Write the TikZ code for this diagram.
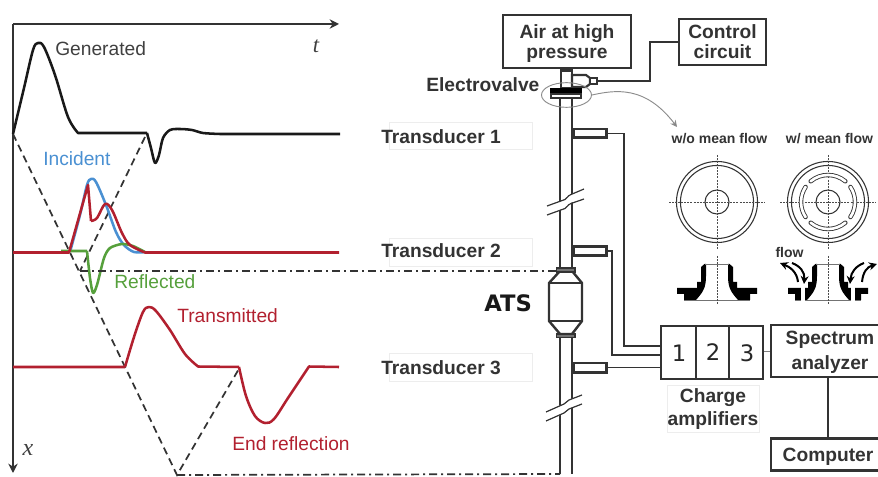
\documentclass[tikz,border=0pt]{standalone}
\usepackage{fontspec}
\setmainfont{Liberation Sans}
\newfontfamily\djv{DejaVu Sans}
\newfontfamily\serf{Liberation Serif}
\usetikzlibrary{arrows.meta,shapes.geometric,calc}
\definecolor{ink}{HTML}{333333}
\definecolor{txtg}{HTML}{404040}
\definecolor{bluec}{HTML}{4A90D2}
\definecolor{greenc}{HTML}{56A03C}
\definecolor{redc}{HTML}{B2202F}
\tikzset{
  wave/.style={line width=1.9pt,line join=round},
  dashw/.style={line width=1.3pt,draw=ink,dash pattern=on 5.5pt off 3.5pt},
  dashdot/.style={line width=1.3pt,draw=ink,dash pattern=on 6pt off 3pt on 1.5pt off 3pt},
  lbl/.style={font=\fontsize{14.4}{15}\selectfont,text=txtg,inner sep=0pt},
  blbl/.style={font=\fontsize{14.4}{15}\selectfont\bfseries,text=ink,inner sep=0pt,align=center},
  sbl/.style={font=\fontsize{10.5}{11}\selectfont\bfseries,text=ink,inner sep=0pt},
  boxb/.style={draw=ink,line width=1.9pt,fill=white,inner sep=0pt,align=center,font=\fontsize{14.4}{15}\selectfont\bfseries,text=ink},
  faint/.style={draw=black!7,line width=.5pt,inner sep=0pt},
  pipe/.style={draw=ink,line width=2pt},
  wire/.style={draw=ink,line width=1.4pt},
  tube/.style={draw=ink,line width=2pt,fill=white,inner sep=0pt},
  centre/.style={draw=black!70,line width=.5pt,dash pattern=on 1.5pt off .8pt},
  disc/.style={draw=ink,line width=.8pt},
  flowa/.style={line width=1.5pt,-{Stealth[length=6pt,width=6pt]}},
  breakl/.style={draw=ink,line width=.9pt},
  dgt/.style={font=\djv\fontsize{17}{18}\selectfont,text=black!85,inner sep=0pt}
}
\begin{document}
\begin{tikzpicture}[x=0.75pt,y=-0.75pt]
\useasboundingbox (0,0) rectangle (878,477);
\clip (0,0) rectangle (878,477);
% axes
\coordinate (O) at (13,24);
\coordinate (tEnd) at (339,24);
\coordinate (xEnd) at (13,473);
\draw[line width=1.6pt,draw=ink,-{Stealth[length=7pt,width=7pt]}] (O) -- (tEnd);
\draw[line width=1.6pt,draw=ink,-{Stealth[length=7pt,width=7pt]}] (O) -- (xEnd);
% characteristic lines
\coordinate (g0) at (13,134);
\coordinate (bot) at (177,475);
\coordinate (r1) at (145,137);
\coordinate (r2) at (80,271);
\coordinate (e1) at (240,367);
\draw[dashw] (g0) -- (bot) -- (e1);
\draw[dashw] (r1) -- (r2);
% waves
\draw[wave,draw=black!90] plot[smooth,tension=.55] coordinates {(13,134) (24,88) (33,50) (38,43) (44,47) (55,75) (68,117) (78,133)} -- (147,133) plot[smooth,tension=.5] coordinates {(147,133) (151,148) (155,163) (159,155) (163,138) (170,130) (180,129) (192,130) (203,133) (220,134)} -- (340,134);
\draw[wave,draw=bluec] plot[smooth,tension=.55] coordinates {(70,252) (80,215) (87,185) (91,179) (96,182) (106,205) (116,232) (124,245) (134,252) (145,252)};
\draw[wave,draw=greenc] (61,251) -- (87,251) plot[smooth,tension=.45] coordinates {(87,251) (90,278) (93,293) (97,285) (104,258) (110,248) (122,244) (133,246) (145,252)};
\draw[wave,draw=redc] (13,252.5) -- (69,252.5) -- (88,185) -- (91,221) plot[smooth,tension=.55] coordinates {(91,221) (97,218) (105,204) (112,210) (122,233) (130,245) (145,252.5)} -- (339,252.5);
\draw[wave,draw=redc] (13,367) -- (125,367) plot[smooth,tension=.55] coordinates {(125,367) (134,337) (143,312) (149,307) (156,311) (170,330) (185,354) (198,366.5)} -- (239,367) plot[smooth,tension=.55] coordinates {(239,367) (246,396) (255,416) (265,423) (274,419) (288,398) (309,366.5)} -- (339,367);
% wave labels
\node[lbl,anchor=base west] (lg) at (55,55.5) {Generated};
\node[lbl,anchor=base west,text=bluec] (li) at (43,166) {Incident};
\node[lbl,anchor=base west,text=greenc] (lre) at (114,289) {Reflected};
\node[lbl,anchor=base west,text=redc] (ltr) at (177,322) {Transmitted};
\node[lbl,anchor=base west,text=redc] (lend) at (232,450) {End reflection};
\node[inner sep=0pt,text=txtg,font=\serf\itshape\fontsize{17}{18}\selectfont,anchor=base] (lt) at (316,53) {t};
\node[inner sep=0pt,text=txtg,font=\serf\itshape\fontsize{18}{19}\selectfont,anchor=base] (lx) at (28,455) {x};
% faint label boxes
\node[faint,minimum width=107.25pt,minimum height=20.25pt] (f1) at (460.5,135.5) {};
\node[faint,minimum width=107.25pt,minimum height=21pt] (f2) at (460.5,252) {};
\node[faint,minimum width=107.25pt,minimum height=21pt] (f3) at (460.5,367) {};
\node[faint,minimum width=69pt,minimum height=35.25pt] (f4) at (713,408.5) {};
\node[blbl,anchor=base west] (t1) at (381,144) {Transducer 1};
\node[blbl,anchor=base west] (t2) at (381,258) {Transducer 2};
\node[blbl,anchor=base west] (t3) at (381,374) {Transducer 3};
\node[inner sep=0pt,text=black!90,font=\djv\bfseries\fontsize{17}{18}\selectfont,anchor=base west] (ats) at (484,311) {ATS};
\node[blbl,anchor=base west] (ev) at (426,92) {Electrovalve};
% pipe
\coordinate (pLt) at (560,98); \coordinate (pRt) at (572,98);
\coordinate (pLb) at (560,474); \coordinate (pRb) at (572,474);
\draw[pipe] (pLt) -- (pLb);
\draw[pipe] (pRt) -- (pRb);
% breaks
\fill[white] (547,206) -- (566,199) -- (570,195) -- (584,189) -- (584,199) -- (570,203) -- (567,207) -- (547,215) -- cycle;
\draw[breakl] (547,206) -- (565,199.5) .. controls (568,198) and (567,196) .. (571,194.5) -- (584,189);
\draw[breakl] (547,215) -- (565,208.5) .. controls (568,207) and (567,205) .. (571,203.5) -- (584,199);
\fill[white] (546,412) -- (565,403) -- (568,400) -- (582,395) -- (582,404) -- (568,409) -- (565,413) -- (546,421) -- cycle;
\draw[breakl] (546,412) -- (564,404) .. controls (567,403) and (566,401) .. (569,400) -- (582,395);
\draw[breakl] (546,421) -- (564,413) .. controls (567,412) and (566,410) .. (569,409) -- (582,404);
% ATS can
\draw[draw=ink,line width=1.8pt,fill=white] (560,271) -- (572,271) -- (582,283) -- (582,321) -- (572,334) -- (560,334) -- (549,321) -- (549,283) -- cycle;
\draw[ink,line width=1.8pt] (549,283) -- (582,283) (549,321) -- (582,321);
\node[tube,minimum width=14pt,minimum height=3pt,line width=1pt,fill=black!55] (af1) at (565.5,270) {};
\node[tube,minimum width=14pt,minimum height=2.5pt,line width=1pt,fill=black!55] (af2) at (565.5,335.5) {};
% valve
\draw[ink,line width=1.8pt,fill=white] (561,70) rectangle (572,88);
\fill[ink] (559.5,68) rectangle (573,72);
\draw[ink,line width=1.6pt,fill=white] (572,75) -- (586,75) -- (590,78) -- (590,84) -- (586,87) -- (572,87) -- cycle;
\node[tube,line width=1.3pt,minimum width=5pt,minimum height=4pt] (vt) at (593.5,81) {};
\fill[black] (550,88) rectangle (582,94);
\node[tube,line width=1.3pt,minimum width=22.5pt,minimum height=3.5pt] (fl) at (566,96) {};
\node[ellipse,draw=black!45,line width=.7pt,minimum width=37.5pt,minimum height=18.5pt,inner sep=0pt] (evc) at (566.5,95) {};
\coordinate (dtl) at (677,127);
\draw[draw=black!45,line width=.7pt,-{Stealth[length=5pt,width=5pt,fill=black!55]}] (evc.east) .. controls (615,90) and (645,85) .. (dtl);
% transducer tubes
\node[tube,minimum width=24.75pt,minimum height=6.5pt,anchor=west] (tr1) at (572,133.5) {};
\node[tube,minimum width=24.75pt,minimum height=6.5pt,anchor=west] (tr2) at (572,251) {};
\node[tube,minimum width=24.75pt,minimum height=7pt,anchor=west] (tr3) at (572,367.5) {};
% top boxes
\node[boxb,minimum width=96pt,minimum height=39.75pt] (air) at (567,41.5) {};
\node[blbl] (airt) at (567,43.5) {Air at high\\pressure};
\node[boxb,minimum width=65.25pt,minimum height=34.5pt,line width=1.6pt] (ctl) at (722.5,42) {Control\\circuit};
\draw[wire] (ctl.west) -- (650,42) -- (650,81) -- (vt.east);
% amplifiers
\node[draw=ink,line width=1.9pt,fill=white,minimum width=76.5pt,minimum height=39.75pt,inner sep=0pt] (amp) at (712,352.5) {};
\draw[ink,line width=.9pt] (696,326) -- (696,379) (729,326) -- (729,379);
\node[dgt] (d1) at (679,353) {1};
\node[dgt] (d2) at (713,352) {2};
\node[dgt] (d3) at (747,353) {3};
\node[blbl] (cha) at (713,409) {Charge\\[2.5pt]amplifiers};
% wires
\draw[wire] (tr1.east) -- (624,133.5) -- (624,346) -- (amp.west |- 0,346);
\draw[wire] (tr2.east) -- (612,251) -- (612,355) -- (amp.west |- 0,355);
\draw[wire] (tr3.east) -- (amp.west |- tr3);
% analyser and computer
\node[boxb,minimum width=88.5pt,minimum height=39pt,line width=1.6pt] (an) at (830,351) {};
\node[blbl] (ant) at (830,352) {Spectrum\\[3.5pt]analyzer};
\node[boxb,minimum width=85.5pt,minimum height=24pt,line width=1.6pt] (comp) at (828,454.5) {};
\node[blbl] (compt) at (828,456.5) {Computer};
\draw[draw=black!50,line width=.7pt] (amp.east |- an) -- (an.west);
\draw[wire] (an.south -| comp.north) -- (comp.north);
% view labels
\node[sbl,anchor=base] (v1) at (719.5,144) {w/o mean flow};
\node[sbl,anchor=base] (v2) at (829.5,144) {w/ mean flow};
\node[sbl,anchor=base] (v3) at (789.5,258) {flow};
% discs
\foreach \cx/\nm in {717/a,828/b}{
  \coordinate (c\nm) at (\cx,202);
  \draw[disc] (c\nm) circle[radius=30.4pt];
  \draw[disc] (c\nm) circle[radius=27.4pt];
  \draw[disc] (c\nm) circle[radius=9pt];
  \draw[centre] ($(c\nm)+(-48,0)$) -- ($(c\nm)+(48,0)$);
  \draw[centre] ($(c\nm)+(0,-47)$) -- ($(c\nm)+(0,48)$);
}
% slots
\foreach \a/\s in {90/40,270/40,0/34,180/34}{
  \draw[ink,line width=3.3pt,line cap=round] ($(cb)+({(\a-\s)}:27*.75pt)$) arc[start angle=\a-\s,end angle=\a+\s,radius=20.25pt];
  \draw[white,line width=2pt,line cap=round] ($(cb)+({(\a-\s)}:27*.75pt)$) arc[start angle=\a-\s,end angle=\a+\s,radius=20.25pt];
}
% cross sections
\foreach \cx/\nm in {717/a,828/b}{
  \begin{scope}[shift={(\cx,0)}]
  \foreach \sg in {-1,1}{
    \begin{scope}[xscale=\sg]
    \fill[black] (12.5,264) -- (16,267) -- (16,282) -- (20,282) -- (20,288) -- (40,288) -- (40,294) -- (33,294) -- (33,300) -- (21,300) .. controls (14,292) and (11,288) .. (11,276) -- (11,264) -- cycle;
    \end{scope}
  }
  \draw[draw=black!55,line width=.7pt] (-12,264) -- (12,264);
  \draw[draw=black!55,line width=.7pt] (-33,300) -- (33,300);
  \draw[centre] (0,256) -- (0,304);
  \end{scope}
}
% slits
\fill[white] (801,287) rectangle (805,301);
\fill[white] (851,287) rectangle (855,301);
% flow arrows
\coordinate (fa1) at (798,282); \coordinate (fa2) at (780,263);
\coordinate (fa3) at (792,263); \coordinate (fa4) at (804,284);
\coordinate (fa5) at (864,263); \coordinate (fa6) at (850,284);
\coordinate (fa7) at (862,282); \coordinate (fa8) at (877,264);
\draw[flowa] (fa1) .. controls (797,272) and (790,267) .. (fa2);
\draw[flowa] (fa3) .. controls (800,266) and (805,272) .. (fa4);
\draw[flowa] (fa5) .. controls (856,266) and (851,272) .. (fa6);
\draw[flowa] (fa7) .. controls (863,272) and (867,267) .. (fa8);
% dash-dot links
\draw[dashdot] (r2) -- (af1.west |- r2);
\draw[dashdot] (bot) -- (pLb);
\end{tikzpicture}
\end{document}
